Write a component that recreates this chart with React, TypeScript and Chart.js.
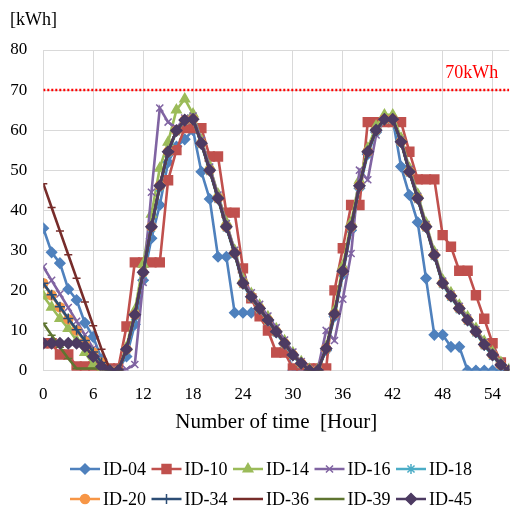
import React, { useEffect, useRef } from 'react';
import { Chart, registerables } from 'chart.js';
import { drawPoint } from 'chart.js/helpers';

Chart.register(...registerables);

const hours = [
  0, 1, 2, 3, 4, 5, 6, 7, 8, 9, 10, 11, 12, 13, 14, 15, 16, 17, 18, 19,
  20, 21, 22, 23, 24, 25, 26, 27, 28, 29, 30, 31, 32, 33, 34, 35, 36, 37, 38, 39,
  40, 41, 42, 43, 44, 45, 46, 47, 48, 49, 50, 51, 52, 53, 54, 55, 56,
];

const seriesNames = ['ID-04', 'ID-10', 'ID-14', 'ID-16', 'ID-18', 'ID-20', 'ID-34', 'ID-36', 'ID-39', 'ID-45'];

const id04 = [35.5, 29.5, 26.8, 20.3, 17.6, 11.9, 8.4, 2.8, 0, 0.3, 3.5, 11.5, 22.5, 33.0, 41.3, 52.0, 55.9, 57.7, 60.0, 49.6,
  42.8, 28.4, 28.4, 14.4, 14.4, 14.4, 14.6, 12.3, 9.5, 6.5, 0, 0, 0, 0.3, 5.0, 13.5, 24.0, 35.0, 45.5, 54.0,
  59.5, 62.5, 62.7, 50.9, 43.8, 37.0, 23.0, 8.9, 8.9, 5.9, 5.9, 0, 0, 0, 0, 0, 0];
const id10 = [6.8, 6.8, 4.0, 4.0, 1.0, 1.0, 1.0, 0.5, 0.5, 0.5, 11.0, 27.0, 27.0, 27.0, 27.0, 47.5, 55.0, 60.5, 60.5, 60.5,
  53.4, 53.4, 39.4, 39.4, 25.5, 18.0, 13.5, 10.0, 4.5, 4.5, 0.5, 0.5, 0.5, 0.5, 0.5, 20.0, 30.5, 41.3, 41.3, 62.0,
  62.0, 62.0, 62.0, 62.0, 54.6, 47.7, 47.7, 47.7, 33.8, 30.9, 24.9, 24.9, 18.8, 12.9, 6.8, 2.0, 0];
const id14 = [18.6, 15.8, 13.0, 10.5, 7.5, 4.5, 1.5, 0.5, 0, 0, 5.8, 15.0, 26.5, 39.0, 50.5, 57.0, 65.0, 67.8, 64.0, 57.5,
  51.0, 44.0, 37.0, 30.0, 22.8, 19.2, 16.3, 13.4, 10.4, 7.4, 4.4, 2.2, 0.3, 0.3, 6.0, 15.0, 26.0, 37.0, 47.5, 55.5,
  61.0, 63.8, 63.8, 58.0, 50.5, 44.0, 36.8, 29.6, 22.6, 19.4, 16.3, 13.4, 10.5, 7.3, 4.6, 2.0, 0.3];
const id16 = [25.9, 22.5, 19.1, 15.7, 12.3, 8.9, 5.5, 2.1, 0.3, 0.3, 0.3, 1.5, 22.0, 44.5, 65.5, 62.0, 60.5, 63.0, 63.5, 57.5,
  50.8, 43.8, 36.7, 30.0, 22.6, 19.4, 16.5, 13.6, 10.7, 7.6, 4.6, 2.2, 0.3, 0.3, 10.0, 7.5, 17.8, 29.2, 50.0, 47.6,
  58.8, 62.7, 62.7, 57.5, 50.2, 43.5, 36.4, 29.3, 22.3, 19.1, 16.0, 13.1, 10.2, 7.0, 4.3, 1.8, 0.3];
const id18 = [21.8, 18.8, 15.8, 12.8, 10.0, 7.3, 4.5, 2.0, 0, 0, 5.0, 13.5, 24.0, 35.5, 45.6, 54.2, 59.6, 62.3, 62.5, 56.4,
  49.7, 42.7, 35.6, 29.0, 21.5, 18.1, 15.2, 12.3, 9.4, 6.5, 3.6, 1.5, 0, 0, 5.2, 13.8, 24.5, 35.6, 45.8, 54.3,
  59.7, 62.5, 62.5, 56.8, 49.3, 42.7, 35.6, 28.5, 21.5, 18.3, 15.2, 12.3, 9.4, 6.2, 3.6, 1.2, 0];
const id20 = [21.8, 18.8, 15.8, 12.8, 10.0, 7.3, 4.5, 2.0, 0, 0, 5.3, 13.9, 24.5, 35.9, 46.1, 54.6, 59.9, 62.5, 62.7, 56.7,
  50.0, 43.0, 35.9, 29.3, 21.8, 18.4, 15.5, 12.6, 9.7, 6.8, 3.9, 1.8, 0, 0, 5.5, 14.1, 24.8, 35.9, 46.1, 54.6,
  60.0, 62.7, 62.7, 57.1, 49.6, 43.0, 35.9, 28.8, 21.8, 18.6, 15.5, 12.6, 9.7, 6.5, 3.9, 1.4, 0];
const id34 = [21.8, 18.9, 15.9, 13.0, 10.2, 7.5, 4.6, 2.0, 0, 0, 5.3, 13.9, 24.5, 35.9, 46.1, 54.6, 59.9, 62.5, 62.7, 56.7,
  50.0, 43.0, 35.9, 29.3, 21.8, 18.4, 15.5, 12.6, 9.7, 6.8, 3.9, 1.8, 0, 0, 5.5, 14.1, 24.8, 35.9, 46.1, 54.6,
  60.0, 62.7, 62.7, 57.1, 49.6, 43.0, 35.9, 28.8, 21.8, 18.6, 15.5, 12.6, 9.7, 6.5, 3.9, 1.4, 0];
const id36 = [46.6, 40.7, 34.8, 28.9, 23.0, 17.1, 11.2, 5.3, 0.3, 0, 5.3, 13.9, 24.5, 35.9, 46.1, 54.6, 59.9, 62.5, 62.7, 56.7,
  50.0, 43.0, 35.9, 29.3, 21.8, 18.4, 15.5, 12.6, 9.7, 6.8, 3.9, 1.8, 0, 0, 5.5, 14.1, 24.8, 35.9, 46.1, 54.6,
  60.0, 62.7, 62.7, 57.1, 49.6, 43.0, 35.9, 28.8, 21.8, 18.6, 15.5, 12.6, 9.7, 6.5, 3.9, 1.4, 0];
const id39 = [11.8, 8.8, 5.8, 3.0, 0.5, 0.5, 0.5, 0.5, 0, 0, 5.3, 13.9, 24.5, 35.9, 46.1, 54.6, 59.9, 62.5, 62.7, 56.7,
  50.0, 43.0, 35.9, 29.3, 21.8, 18.4, 15.5, 12.6, 9.7, 6.8, 3.9, 1.8, 0, 0, 5.5, 14.1, 24.8, 35.9, 46.1, 54.6,
  60.0, 62.7, 62.7, 57.1, 49.6, 43.0, 35.9, 28.8, 21.8, 18.6, 15.5, 12.6, 9.7, 6.5, 3.9, 1.4, 0];
const id45 = [6.8, 6.8, 6.8, 6.8, 6.8, 6.0, 3.5, 1.0, 0, 0, 5.3, 13.9, 24.5, 35.9, 46.1, 54.6, 59.9, 62.5, 62.7, 56.7,
  50.0, 43.0, 35.9, 29.3, 21.8, 18.4, 15.5, 12.6, 9.7, 6.8, 3.9, 1.8, 0, 0, 5.5, 14.1, 24.8, 35.9, 46.1, 54.6,
  60.0, 62.7, 62.7, 57.1, 49.6, 43.0, 35.9, 28.8, 21.8, 18.6, 15.5, 12.6, 9.7, 6.5, 3.9, 1.4, 0];

const seriesValues = [id04, id10, id14, id16, id18, id20, id34, id36, id39, id45];

const threshold = 70;
const thresholdLabel = '70kWh';
const yUnitLabel = '[kWh]';
const xTitle = 'Number of time  [Hour]';

const colors = ['#4F81BD', '#C0504D', '#9BBB59', '#8064A2', '#4BACC6', '#F79646', '#2C4D75', '#772C2A', '#5F7530', '#4D3B62'];
const pointStyles = ['rectRot', 'rect', 'triangle', 'crossRot', 'star', 'circle', 'cross', 'line', 'line', 'rectRot'];
const pointRadii = [5, 6.3, 5.5, 5, 5, 4.5, 5, 4, 4, 5.5];

const FONT = "'Liberation Serif', 'Times New Roman', serif";

const extrasPlugin = {
  id: 'extras',
  afterDraw(chart: any) {
    const ctx = chart.ctx as CanvasRenderingContext2D;
    const yScale = chart.scales.y;
    const area = chart.chartArea;
    ctx.save();
    ctx.fillStyle = '#000';
    ctx.font = `18px ${FONT}`;
    ctx.textAlign = 'left';
    ctx.textBaseline = 'middle';
    ctx.fillText(yUnitLabel, 10, 20);
    ctx.fillStyle = '#FF0000';
    ctx.textAlign = 'right';
    ctx.fillText(thresholdLabel, area.right - 11, yScale.getPixelForValue(threshold) - 17);
    seriesNames.forEach((name, i) => {
      const col = i % 5;
      const row = Math.floor(i / 5);
      const x0 = 70 + col * 81.5;
      const y = 469 + row * 30;
      ctx.strokeStyle = colors[i];
      ctx.lineWidth = 2.5;
      ctx.beginPath();
      ctx.moveTo(x0, y);
      ctx.lineTo(x0 + 30, y);
      ctx.stroke();
      ctx.fillStyle = colors[i];
      ctx.strokeStyle = colors[i];
      ctx.lineWidth = 1.5;
      drawPoint(ctx, { pointStyle: pointStyles[i], radius: pointRadii[i], rotation: 0, borderWidth: 1.5 } as any, x0 + 15, y);
      ctx.fillStyle = '#000';
      ctx.font = `18px ${FONT}`;
      ctx.textAlign = 'left';
      ctx.textBaseline = 'middle';
      ctx.fillText(name, x0 + 33, y + 1);
    });
    ctx.restore();
  },
};

export default function App() {
  const ref = useRef<HTMLCanvasElement | null>(null);
  useEffect(() => {
    if (!ref.current) return;
    const datasets: any[] = seriesValues.map((vals, i) => ({
      label: seriesNames[i],
      data: hours.map((h, k) => ({ x: h, y: vals[k] })),
      borderColor: colors[i],
      backgroundColor: colors[i],
      pointBackgroundColor: colors[i],
      pointBorderColor: colors[i],
      pointStyle: pointStyles[i],
      pointRadius: pointRadii[i],
      pointBorderWidth: 1.5,
      borderWidth: 2.6,
      tension: 0,
      order: 20 - i,
    }));
    datasets.push({
      label: 'threshold',
      data: [{ x: hours[0], y: threshold }, { x: hours[hours.length - 1], y: threshold }],
      borderColor: '#FF0000',
      borderWidth: 2.5,
      borderDash: [2, 2],
      pointRadius: 0,
      order: 0,
    });
    const chart = new Chart(ref.current, {
      type: 'line',
      data: { datasets },
      options: {
        responsive: false,
        animation: false,
        layout: { padding: { left: 0, top: 50, right: 3, bottom: 71.4 } },
        plugins: { legend: { display: false }, tooltip: { enabled: false } },
        scales: {
          x: {
            type: 'linear',
            min: 0,
            max: 56,
            grid: { color: '#D9D9D9', drawTicks: false, lineWidth: 1 },
            border: { color: '#D9D9D9' },
            ticks: { stepSize: 6, includeBounds: false, padding: 14.3, color: '#000', font: { family: FONT, size: 17 } },
            title: { display: true, text: xTitle, color: '#000', font: { family: FONT, size: 21 }, padding: 0 },
            afterFit: (s: any) => { s.height = 64.1; },
          },
          y: {
            min: 0,
            max: 80,
            grid: { color: '#D9D9D9', drawTicks: false, lineWidth: 1 },
            border: { color: '#D9D9D9' },
            ticks: { stepSize: 10, padding: 16, color: '#000', font: { family: FONT, size: 17 } },
            afterFit: (s: any) => { s.width = 43.3; },
          },
        },
      },
      plugins: [extrasPlugin],
    });
    return () => chart.destroy();
  }, []);
  return (
    <div style={{ position: 'absolute', left: 0, top: 0, width: 517, height: 506, background: '#fff' }}>
      <canvas ref={ref} width={517} height={506} />
    </div>
  );
}
